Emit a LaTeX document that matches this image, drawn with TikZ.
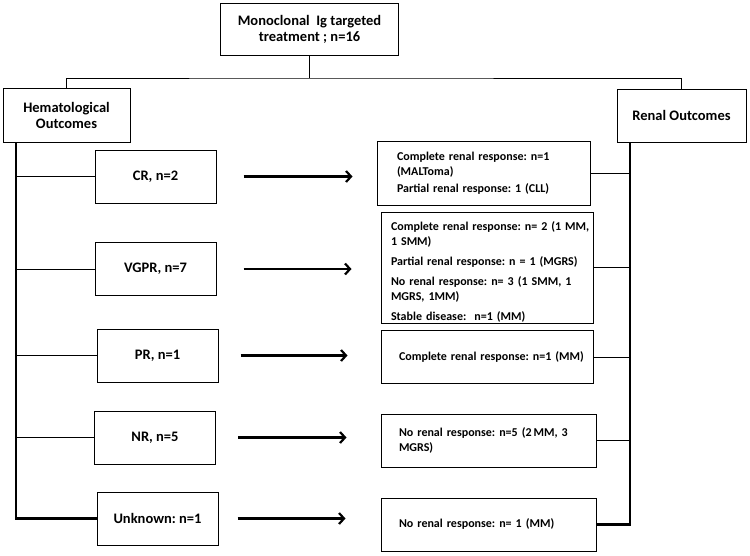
\documentclass[tikz,border=0pt]{standalone}
\usepackage{fontspec}
\setmainfont{Carlito}
\usetikzlibrary{arrows.meta}
\frenchspacing
\newcommand{\reslines}[1]{\begin{tabular}{@{}l@{}}#1\end{tabular}}

\begin{document}
\begin{tikzpicture}[x=1pt,y=-1pt,>={Straight Barb[length=5pt,width=11pt]}]
    \tikzstyle{box}=[draw,rectangle,line width=1pt,inner sep=0pt,align=center,font=\bfseries\fontsize{14.5}{16}\selectfont]
    \tikzstyle{hem}=[box,minimum width=121pt,minimum height=53pt]
    \tikzstyle{res}=[box,align=left,minimum height=53pt,font=\bfseries\fontsize{12}{15}\selectfont]
    \tikzstyle{arr}=[->,line width=2.2pt]
    \tikzstyle{trunk}=[line width=2.4pt]
  \useasboundingbox (0,0) rectangle (750,555);

  %% top of the tree
  \node (mab) at (309.5,29) [box,minimum width=178pt,minimum height=52pt] {Monoclonal~ Ig targeted\\treatment ; n=16};
  \node (hout) at (66.5,115) [box,minimum width=127pt,minimum height=54pt] {Hematological\\Outcomes};
  \node (rout) at (681.5,115.5) [box,minimum width=129pt,minimum height=53pt] {Renal Outcomes};
  \coordinate (bus) at (309.5,78);

  %% hematological responses
  \node (cr)   at (155.5,176.5) [hem] {CR, n=2};
  \node (vgpr) at (155.5,269)   [hem] {VGPR, n=7};
  \node (pr)   at (157.5,355.5) [hem] {PR, n=1};
  \node (nr)   at (155,437.5)   [hem] {NR, n=5};
  \node (unk)  at (157.5,518.5) [hem] {Unknown: n=1};
  \coordinate (lb) at (16,518.5); % bottom of left trunk

  %% renal responses
  \node (r1) at (483.5,173) [res,inner xsep=20pt,text width=173pt,minimum height=64pt]
    {\reslines{Complete renal response: n=1\\(MALToma)\\[2pt]Partial renal response: 1 (CLL)}};
  \node (r2) at (487,267.5) [res,inner xsep=10pt,text width=192pt,minimum height=111pt]
    {\reslines{Complete renal response: n= 2 (1 MM,\\1 SMM)\\[5pt]Partial renal response: n = 1 (MGRS)\\[5pt]No renal response: n= 3 (1 SMM, 1\\MGRS, 1MM)\\[5pt]Stable disease:~ n=1 (MM)\\[-10pt]}};
  \node (r3) at (487,357) [res,inner xsep=18pt,text width=176pt] {\reslines{Complete renal response: n=1 (MM)}};
  \node (r4) at (488.5,440.5) [res,inner xsep=18pt,text width=179pt] {\reslines{No renal response: n=5 (2\,MM, 3\\MGRS)}};
  \node (r5) at (488.5,524.5) [res,inner xsep=18pt,text width=179pt] {\reslines{No renal response: n= 1 (MM)}};
  \coordinate (rb) at (630,524.5); % bottom of right trunk

  \draw[line width=1pt] (mab.south) -- (bus);
  \draw[line width=1pt] (hout.north) |- (bus) -| (rout.north);

  \draw[trunk] (hout.south -| lb) -- (lb) -- (unk.west);
  \draw[trunk] (rout.south -| rb) -- (rb) -- (r5.east);

  \draw[line width=1pt] (cr.west -| lb) -- (cr.west);
  \draw[line width=1pt] (vgpr.west -| lb) -- (vgpr.west);
  \draw[line width=1pt] (pr.west -| lb) -- (pr.west);
  \draw[line width=1pt] (nr.west -| lb) -- (nr.west);

  \draw[line width=1pt] (r1.east) -- (r1.east -| rb);
  \draw[line width=1pt] (r2.east) -- (r2.east -| rb);
  \draw[line width=1pt] (r3.east) -- (r3.east -| rb);
  \draw[line width=1pt] (r4.east) -- (r4.east -| rb);

  \draw[arr,shorten <=27pt,shorten >=24pt] (cr.east) -- (cr.east -| r1.west);
  \draw[arr,shorten <=27pt,shorten >=29pt] (vgpr.east) -- (vgpr.east -| r2.west);
  \draw[arr,shorten <=22pt,shorten >=33pt] (pr.east) -- (pr.east -| r3.west);
  \draw[arr,shorten <=22pt,shorten >=34pt] (nr.east) -- (nr.east -| r4.west);
  \draw[arr,shorten <=19pt,shorten >=35pt] (unk.east) -- (unk.east -| r5.west);
\end{tikzpicture}
\end{document}
